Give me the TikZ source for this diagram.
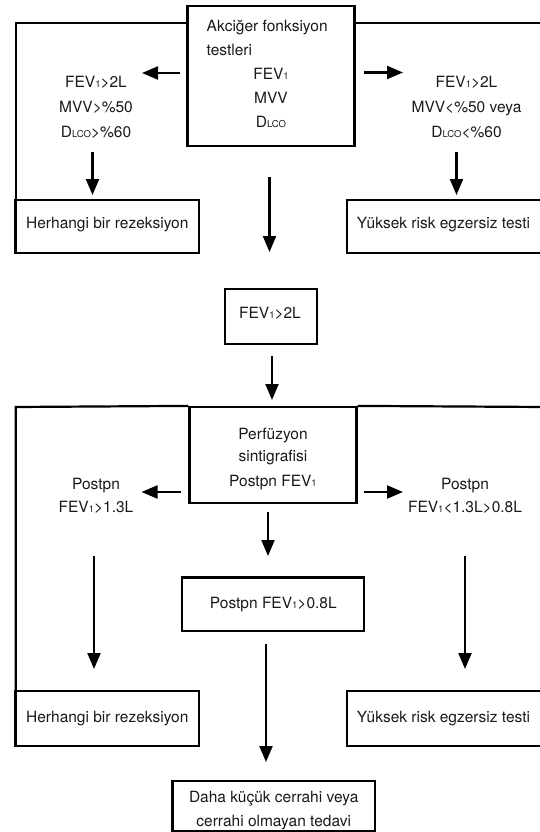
\documentclass[tikz,border=0pt]{standalone}
\usepackage{fontspec}
\setmainfont{TeX Gyre Heros}
\usetikzlibrary{arrows.meta}
\newcommand\sbs[1]{{\fontsize{9.5}{9.5}\selectfont #1}}
\tikzset{
  x=1pt, y=-1pt,
  box/.style={draw=black, line width=2.2pt, rectangle, inner sep=0pt},
  txt/.style={anchor=base, inner sep=0pt, font=\fontsize{15.5}{18}\selectfont, text=black!90},
  txtl/.style={txt, anchor=base west},
  arr/.style={line width=2.2pt, -{Triangle[length=16pt,width=13pt]}},
  frame/.style={line width=2.2pt}
}
\begin{document}
\begin{tikzpicture}
\useasboundingbox (0,0) rectangle (540,832);
\clip (0,0) rectangle (540,832);
% boxes
\node[box, minimum width=167pt, minimum height=140pt] (top) at (271,76) {};
\node[box, minimum width=183.5pt, minimum height=53pt] (her1) at (107.25,226.5) {};
\node[box, minimum width=198.3pt, minimum height=53pt] (yuk1) at (445.85,226.5) {};
\node[box, minimum width=91.5pt, minimum height=55pt] (fev) at (271.05,316.5) {};
\node[box, minimum width=167pt, minimum height=96pt] (perf) at (273,455) {};
\node[box, minimum width=182.3pt, minimum height=53.5pt] (post) at (272.85,604.25) {};
\node[box, minimum width=183.5pt, minimum height=55pt] (her2) at (107.25,718.5) {};
\node[box, minimum width=198.3pt, minimum height=55pt] (yuk2) at (445.85,718.5) {};
\node[box, minimum width=202.5pt, minimum height=50pt] (son) at (273.75,806) {};
% texts in top box
\node[txtl] (t1) at (206.5,31.5) {Akciğer fonksiyon};
\node[txtl] (t2) at (206.5,56) {testleri};
\node[txt] (t3) at (271,80) {FEV\sbs{1}};
\node[txt] (t4) at (271,104) {MVV};
\node[txt] (t5) at (271,128) {D\sbs{LCO}};
% left criteria
\node[txt] (l1) at (96,88) {FEV\sbs{1}>2L};
\node[txt] (l2) at (96,113) {MVV>\%50};
\node[txt] (l3) at (96,137) {D\sbs{LCO}>\%60};
% right criteria
\node[txt] (r1) at (466.5,88) {FEV\sbs{1}>2L};
\node[txt] (r2) at (466.5,113) {MVV<\%50 veya};
\node[txt] (r3) at (466.5,137) {D\sbs{LCO}<\%60};
% first row boxes text
\node[txt] (h1t) at (107.3,228) {Herhangi bir rezeksiyon};
\node[txtl] (y1t) at (356.7,228) {Yüksek risk egzersiz testi};
\node[txt] (ft) at (270,318.5) {FEV\sbs{1}>2L};
% perfusion
\node[txt] (p1) at (273,439) {Perfüzyon};
\node[txt] (p2) at (273,461) {sintigrafisi};
\node[txt] (p3) at (273,486) {Postpn FEV\sbs{1}};
\node[txt] (ll1) at (96,489) {Postpn};
\node[txt] (ll2) at (96,512) {FEV\sbs{1}>1.3L};
\node[txt] (rr1) at (465,489) {Postpn};
\node[txt] (rr2) at (465,512) {FEV\sbs{1}<1.3L>0.8L};
\node[txt] (pt) at (273.3,608.5) {Postpn FEV\sbs{1}>0.8L};
\node[txt] (h2t) at (107.3,722) {Herhangi bir rezeksiyon};
\node[txtl] (y2t) at (356.7,722) {Yüksek risk egzersiz testi};
\node[txt] (s1) at (273.7,802) {Daha küçük cerrahi veya};
\node[txt] (s2) at (273.7,826) {cerrahi olmayan tedavi};
% frames
\coordinate (f1) at (15.8,23);
\coordinate (f2) at (545,23);
\draw[frame] (top.west |- f1) -- (f1) -- (f1 |- her1.north);
\draw[frame] (top.east |- f2) -- (f2);
\coordinate (g1) at (15.8,407);
\coordinate (g2) at (545,407);
\draw[frame] (perf.north west) -- (g1) -- (g1 |- her2.north);
\draw[frame] (perf.north east) -- (g2);
% arrow coordinates
\coordinate (a1s) at (180,73);   \coordinate (a1e) at (142,73);
\coordinate (a2s) at (364,72.5); \coordinate (a2e) at (403,72.5);
\coordinate (a3s) at (92.5,152); \coordinate (a3e) at (92.5,195);
\coordinate (a4s) at (456.5,152);\coordinate (a4e) at (456.5,195);
\coordinate (a5s) at (269.5,177);\coordinate (a5e) at (269.5,252);
\coordinate (a6s) at (272,356);  \coordinate (a6e) at (272,400);
\coordinate (a7s) at (181,492);  \coordinate (a7e) at (141.5,492);
\coordinate (a8s) at (364,492);  \coordinate (a8e) at (403,492);
\coordinate (a9s) at (268,512);  \coordinate (a9e) at (268,556);
\coordinate (a10s) at (94,556);  \coordinate (a10e) at (94,669);
\coordinate (a11s) at (465,556); \coordinate (a11e) at (465,669);
\coordinate (a12s) at (266,644); \coordinate (a12e) at (266,762);
\foreach \i in {1,...,12}{\draw[arr] (a\i s) -- (a\i e);}
\end{tikzpicture}
\end{document}
